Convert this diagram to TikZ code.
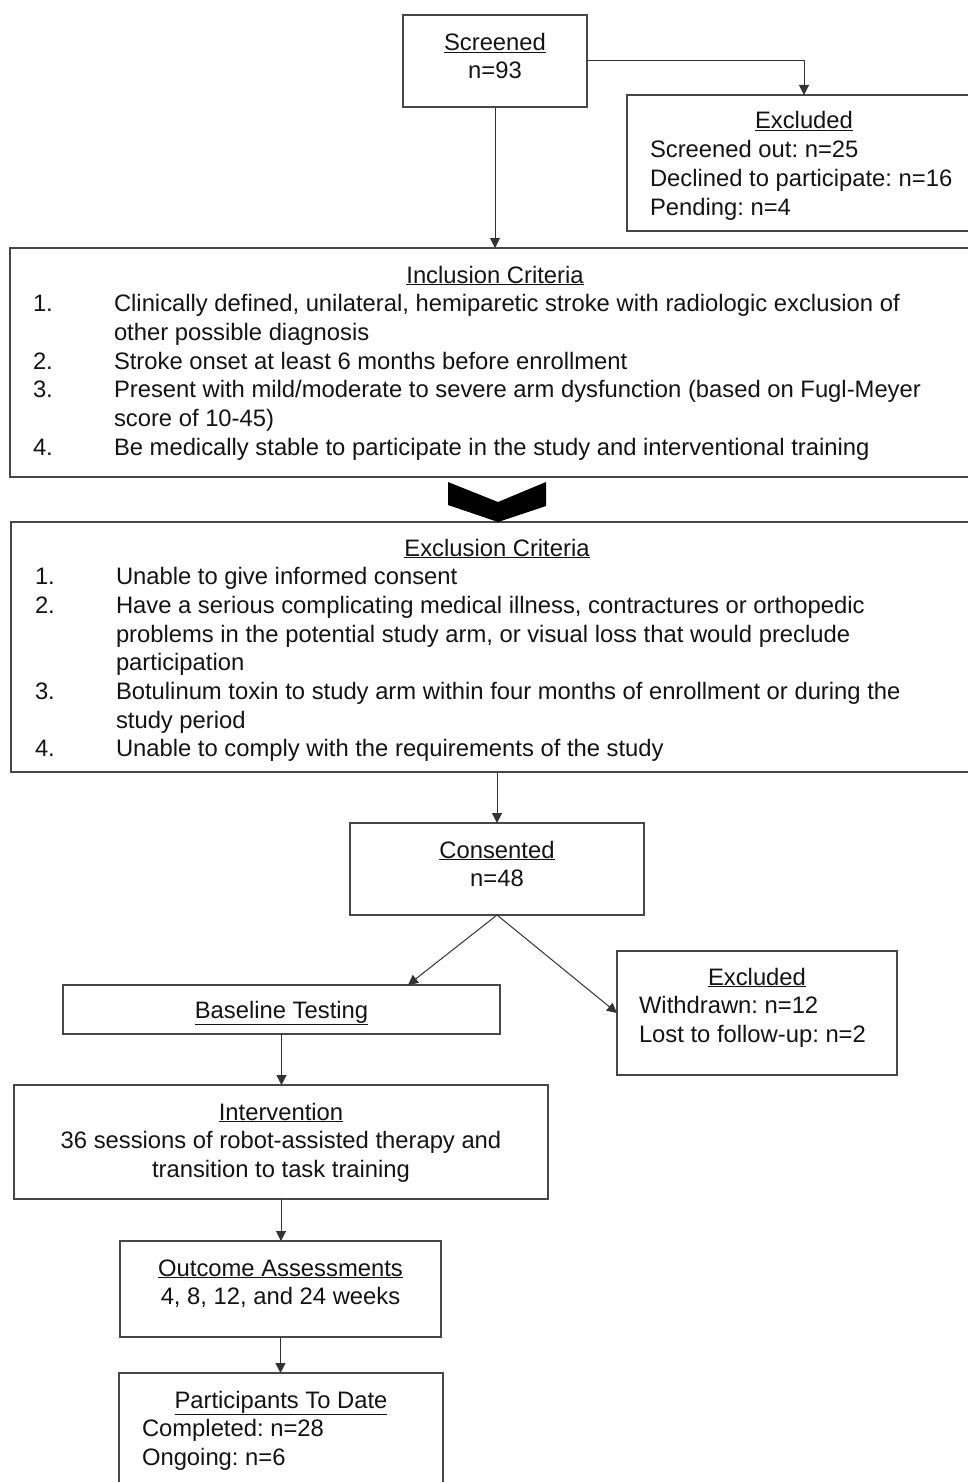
\documentclass[tikz,border=0pt]{standalone}
\usepackage{fontspec}
\setmainfont{Liberation Sans}
\usetikzlibrary{arrows.meta}
\frenchspacing
\begin{document}
\begin{tikzpicture}[x=1pt,y=-1pt,
  box/.style={draw=black!72, line width=1.1pt, rectangle, inner sep=0pt, outer sep=0pt, anchor=north west},
  txt/.style={inner sep=0pt, outer sep=0pt, font=\fontsize{23.8}{28.7}\selectfont\frenchspacing, text=black!92},
  tl/.style={txt, anchor=base west},
  tc/.style={txt, anchor=base},
  arr/.style={draw=black!80, line width=1pt, -{Triangle[length=10pt,width=10pt]}}]
\useasboundingbox (0,0) rectangle (968,1482);
\clip (0,0) rectangle (968,1482);
\fill[white] (0,0) rectangle (968,1482);

% boxes
\node[box, minimum width=184pt, minimum height=92pt] (screened) at (403,15) {};
\node[box, minimum width=354pt, minimum height=136pt] (excl1) at (627,95) {};
\node[box, minimum width=970pt, minimum height=229pt] (incl) at (10,248) {};
\node[box, minimum width=972pt, minimum height=250pt] (exclc) at (11,522) {};
\node[box, minimum width=294pt, minimum height=92pt] (consent) at (350,823) {};
\node[box, minimum width=437pt, minimum height=49pt] (baseline) at (63,985) {};
\node[box, minimum width=280pt, minimum height=124pt] (excl2) at (617,951) {};
\node[box, minimum width=534pt, minimum height=114pt] (interv) at (14,1085) {};
\node[box, minimum width=321pt, minimum height=96pt] (outcome) at (120,1241) {};
\node[box, minimum width=324pt, minimum height=140pt] (partic) at (119,1373) {};

% Screened
\node[tc] (s1) at (495,51) {\underline{Screened}};
\node[tc] (s2) at (495,79) {n=93};

% Excluded 1
\node[tc] (e1t) at (804,129) {\underline{Excluded}};
\node[tl] (e1a) at (650,158) {Screened out: n=25};
\node[tl] (e1b) at (650,186.5) {Declined to participate: n=16};
\node[tl] (e1c) at (650,215) {Pending: n=4};

% Inclusion
\node[tc] (it) at (495,283) {\underline{Inclusion Criteria}};
\node[tl] (in1) at (33,311.7) {1.};
\node[tl] (ia1) at (114,311.7) {Clinically defined, unilateral, hemiparetic stroke with radiologic exclusion of};
\node[tl] (ia2) at (114,340.4) {other possible diagnosis};
\node[tl] (in2) at (33,369.1) {2.};
\node[tl] (ib1) at (114,369.1) {Stroke onset at least 6 months before enrollment};
\node[tl] (in3) at (33,397.8) {3.};
\node[tl] (ic1) at (114,397.8) {Present with mild/moderate to severe arm dysfunction (based on Fugl-Meyer};
\node[tl] (ic2) at (114,426.5) {score of 10-45)};
\node[tl] (in4) at (33,455.2) {4.};
\node[tl] (id1) at (114,455.2) {Be medically stable to participate in the study and interventional training};

% chevron
\fill[black] (448,482) -- (498,502) -- (546,482) -- (546,506) -- (498,522) -- (448,505) -- cycle;

% Exclusion
\node[tc] (xt) at (497,556) {\underline{Exclusion Criteria}};
\node[tl] (xn1) at (35,584.7) {1.};
\node[tl] (xa1) at (116,584.7) {Unable to give informed consent};
\node[tl] (xn2) at (35,613.4) {2.};
\node[tl] (xb1) at (116,613.4) {Have a serious complicating medical illness, contractures or orthopedic};
\node[tl] (xb2) at (116,642.1) {problems in the potential study arm, or visual loss that would preclude};
\node[tl] (xb3) at (116,670.8) {participation};
\node[tl] (xn3) at (35,699.5) {3.};
\node[tl] (xc1) at (116,699.5) {Botulinum toxin to study arm within four months of enrollment or during the};
\node[tl] (xc2) at (116,728.2) {study period};
\node[tl] (xn4) at (35,756.9) {4.};
\node[tl] (xd1) at (116,756.9) {Unable to comply with the requirements of the study};

% Consented
\node[tc] (c1) at (497,858) {\underline{Consented}};
\node[tc] (c2) at (497,886) {n=48};

% Baseline
\node[tc] (b1) at (281.5,1018) {\underline{Baseline Testing}};

% Excluded 2
\node[tc] (e2t) at (757,985) {\underline{Excluded}};
\node[tl] (e2a) at (639,1013.7) {Withdrawn: n=12};
\node[tl] (e2b) at (639,1042.4) {Lost to follow-up: n=2};

% Intervention
\node[tc] (v1) at (281,1120) {\underline{Intervention}};
\node[tc] (v2) at (281,1148.7) {36 sessions of robot-assisted therapy and};
\node[tc] (v3) at (281,1177.4) {transition to task training};

% Outcome
\node[tc] (o1) at (280.5,1276) {\underline{Outcome Assessments}};
\node[tc] (o2) at (280.5,1304.7) {4, 8, 12, and 24 weeks};

% Participants
\node[tc] (p1) at (281,1408) {\underline{Participants To Date}};
\node[tl] (p2) at (142,1436.7) {Completed: n=28};
\node[tl] (p3) at (142,1465.4) {Ongoing: n=6};

% connectors
\draw[arr] (screened.east) -| (excl1.north);
\draw[arr] (screened.south) -- (incl.north);
\draw[arr] (exclc.south) -- (consent.north);
\path (baseline.north west) ++(345,0) coordinate (blt);
\draw[arr] (consent.south) -- (blt);
\draw[arr] (consent.south) -- (excl2.west);
\draw[arr] (baseline.south) -- (baseline.south |- interv.north);
\draw[arr] (interv.south) -- (interv.south |- outcome.north);
\draw[arr] (outcome.south) -- (outcome.south |- partic.north);
\end{tikzpicture}
\end{document}
